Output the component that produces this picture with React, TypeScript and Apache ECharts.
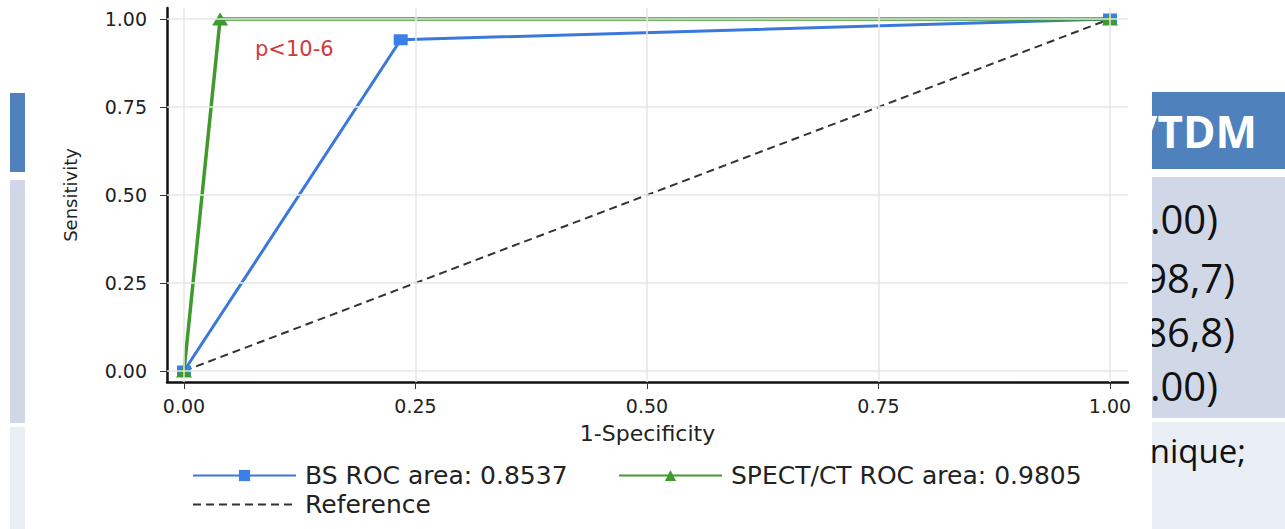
import React, { useEffect, useRef } from "react";
import * as echarts from "echarts";

// ---- data ----
const tickValues = [0, 0.25, 0.5, 0.75, 1];
const bsX = [0, 0.234, 1];
const bsY = [0, 0.941, 1];
const spectX = [0, 0.039, 1];
const spectY = [0, 1, 1];
const refX = [0, 1];
const refY = [0, 1];
const seriesNames = ["BS ROC area: 0.8537", "SPECT/CT ROC area: 0.9805", "Reference"];
const xAxisName = "1-Specificity";
const yAxisName = "Sensitivity";
const pText = "p<10-6";
const tableHeader = "/TDM";
const tableRows = [".00)", "(98,7)", "(86,8)", ".00)"];
const tableFoot = "nique;";

const zip = (xs: number[], ys: number[]) => xs.map((x, i) => [x, ys[i]]);

const FONT = "DejaVu Sans";

export default function App() {
  const ref = useRef<HTMLDivElement>(null);
  useEffect(() => {
    document.body.style.margin = "0";
    const chart = echarts.init(ref.current!, null, { renderer: "svg" });
    const legendCommon = {
      orient: "horizontal" as const,
      itemWidth: 103,
      itemHeight: 14,
      textStyle: { fontFamily: FONT, fontSize: 25, color: "#222", padding: [0, 0, 0, 4] },
    };
    const rowTexts = [
      { t: tableRows[0], right: 1218, y: 218 },
      { t: tableRows[1], right: 1235, y: 277 },
      { t: tableRows[2], right: 1235, y: 331 },
      { t: tableRows[3], right: 1218, y: 385 },
    ];
    chart.setOption({
      animation: false,
      backgroundColor: "#ffffff",
      grid: { left: 167, top: 8, right: 157, bottom: 147 },
      xAxis: {
        type: "value",
        min: -0.01836,
        max: 1.01944,
        name: xAxisName,
        nameLocation: "middle",
        nameGap: 40,
        nameTextStyle: { fontFamily: FONT, fontSize: 22, color: "#222" },
        axisLine: { onZero: false, lineStyle: { color: "#111", width: 2.5 } },
        axisTick: { show: true, customValues: tickValues, length: 7, lineStyle: { color: "#333", width: 1 } },
        axisLabel: {
          customValues: tickValues,
          margin: 14,
          fontFamily: FONT,
          fontSize: 19,
          color: "#222",
          formatter: (v: number) => v.toFixed(2),
        },
        splitLine: { show: false },
      },
      yAxis: {
        type: "value",
        min: -0.03125,
        max: 1.03125,
        name: yAxisName,
        nameLocation: "middle",
        nameGap: 88,
        nameRotate: 90,
        nameTextStyle: { fontFamily: FONT, fontSize: 18, color: "#222" },
        axisLine: { show: true, onZero: false, lineStyle: { color: "#111", width: 2.5 } },
        axisTick: { show: true, customValues: tickValues, length: 7, lineStyle: { color: "#333", width: 1 } },
        axisLabel: {
          customValues: tickValues,
          margin: 20,
          fontFamily: FONT,
          fontSize: 19,
          color: "#222",
          formatter: (v: number) => v.toFixed(2),
        },
        splitLine: { show: false },
      },
      legend: [
        { ...legendCommon, data: [seriesNames[0]], left: 187, top: 458 },
        { ...legendCommon, data: [seriesNames[1]], left: 613, top: 458 },
        { ...legendCommon, data: [seriesNames[2]], left: 187, top: 487 },
      ],
      series: [
        {
          name: "grid",
          type: "line",
          data: [],
          z: 1,
          silent: true,
          markLine: {
            silent: true,
            symbol: "none",
            label: { show: false },
            lineStyle: { color: "#e6e6e6", width: 1.5, type: "solid" },
            data: [
              ...tickValues.map((v) => ({ yAxis: v })),
              ...tickValues.map((v) => ({ xAxis: v })),
            ],
          },
        },
        {
          name: seriesNames[2],
          type: "line",
          data: zip(refX, refY),
          z: 2,
          showSymbol: false,
          symbol: "none",
          lineStyle: { color: "#333", width: 2, type: [8, 5] },
          itemStyle: { color: "rgba(0,0,0,0)" },
        },
        {
          name: seriesNames[0],
          type: "line",
          data: zip(bsX, bsY),
          z: 3,
          symbol: "rect",
          symbolSize: [14, 11],
          lineStyle: { color: "#3a78dc", width: 3 },
          itemStyle: { color: "#3a80e6" },
        },
        {
          name: seriesNames[1],
          type: "line",
          data: zip(spectX, spectY),
          z: 4,
          symbol: "triangle",
          symbolSize: [16, 13],
          lineStyle: { color: "#3f9b2e", width: 3.5 },
          itemStyle: { color: "#3f9b2e" },
        },
      ],
      graphic: [
        { type: "rect", z2: 0, shape: { x: 10, y: 93, width: 15, height: 79 }, style: { fill: "#4f81bd" } },
        { type: "rect", z2: 0, shape: { x: 10, y: 180, width: 15, height: 243 }, style: { fill: "#d0d8e8" } },
        { type: "rect", z2: 0, shape: { x: 10, y: 427, width: 15, height: 102 }, style: { fill: "#e9edf4" } },
        { type: "rect", z2: 0, shape: { x: 1152, y: 92, width: 133, height: 77 }, style: { fill: "#4f81bd" } },
        { type: "rect", z2: 0, shape: { x: 1152, y: 177, width: 133, height: 241 }, style: { fill: "#d0d8e8" } },
        { type: "rect", z2: 0, shape: { x: 1152, y: 422, width: 133, height: 107 }, style: { fill: "#e9edf4" } },
        {
          type: "text",
          z2: 1,
          x: 1257,
          y: 131,
          style: {
            text: tableHeader,
            fill: "#ffffff",
            font: `bold 44px "Open Sans"`,
            textAlign: "right",
            textVerticalAlign: "middle",
          },
        },
        ...rowTexts.map((r) => ({
          type: "text",
          z2: 1,
          x: r.right,
          y: r.y,
          style: {
            text: r.t,
            fill: "#111",
            font: `40px "Open Sans"`,
            textAlign: "right",
            textVerticalAlign: "middle",
          },
        })),
        {
          type: "text",
          z2: 1,
          x: 1246,
          y: 450,
          style: {
            text: tableFoot,
            fill: "#111",
            font: `33px "Open Sans"`,
            textAlign: "right",
            textVerticalAlign: "middle",
          },
        },
        { type: "rect", z2: 100, shape: { x: 1129, y: 175, width: 23, height: 224 }, style: { fill: "#ffffff" } },
        {
          type: "text",
          z2: 100,
          x: 255,
          y: 49,
          style: {
            text: pText,
            fill: "#d23a3a",
            font: `21px "DejaVu Sans"`,
            textAlign: "left",
            textVerticalAlign: "middle",
          },
        },
      ],
    });
    return () => chart.dispose();
  }, []);
  return <div ref={ref} style={{ width: 1285, height: 529 }} />;
}
